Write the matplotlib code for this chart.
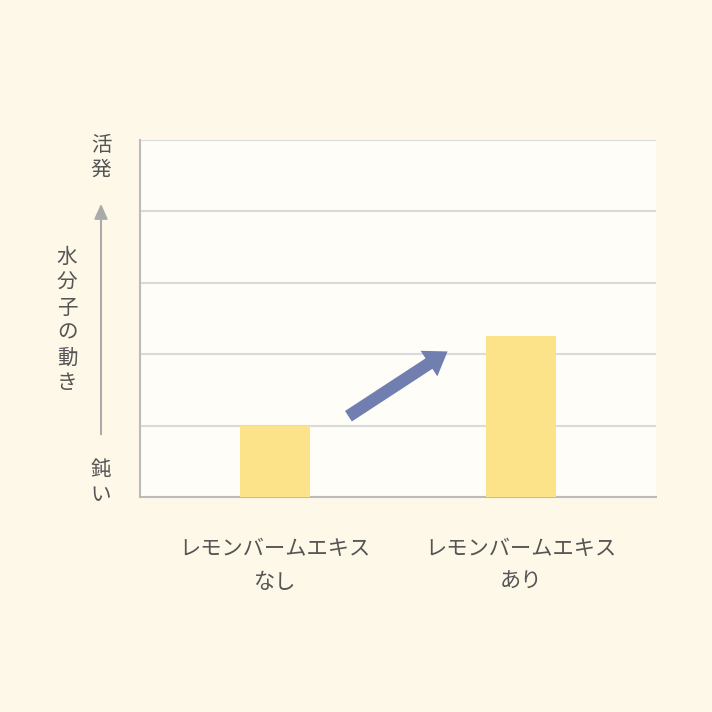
import numpy as np
import matplotlib.pyplot as plt
from matplotlib.patches import FancyArrowPatch

plt.rcParams['font.family'] = ['Noto Sans CJK JP', 'DejaVu Sans']

# == data ==
categories = ['レモンバームエキス\nなし', 'レモンバームエキス\nあり']
values = [1.0, 2.25]
y_label = '水分子の動き'
top_label = '活発'
bottom_label = '鈍い'

bg = '#FEF8E8'
text_col = '#555555'
W = 712


def fx(px):
    return px / W


def fy(py):
    return 1 - py / W


fig = plt.figure(figsize=(7.12, 7.12), dpi=100, facecolor=bg)
ax = fig.add_axes([fx(140), fy(497), fx(656) - fx(140), (497 - 140) / W])
ax.set_facecolor('#FFFDF8')

x = np.arange(len(categories))
ax.bar(x, values, width=0.285, color='#FCE38A', zorder=3)

ax.set_xlim(-0.549, 1.549)
ax.set_ylim(0, 5)
ax.set_yticks(np.arange(0, 6, 1))
ax.yaxis.grid(True, color='#DADADA', linewidth=1.5, zorder=0)
ax.tick_params(left=False, bottom=False, labelleft=False)
ax.set_xticks(x)
ax.set_xticklabels(categories, fontsize=15.3, color=text_col, linespacing=1.62)
ax.tick_params(axis='x', pad=26)

for s in ['top', 'right']:
    ax.spines[s].set_visible(False)
for s in ['left', 'bottom']:
    ax.spines[s].set_color('#BBBBBB')
    ax.spines[s].set_linewidth(1.5)

# blue arrow between bars
ax.add_patch(FancyArrowPatch((0.289, 1.11), (0.711, 2.06), arrowstyle='simple,head_width=2.2,head_length=1.6,tail_width=0.9',
                             mutation_scale=10, color='#717FB0', lw=0, zorder=4))

# left axis labels
fs = 14.8
fig.text(fx(101), fy(145), top_label[0], ha='center', va='center', fontsize=fs, color=text_col)
fig.text(fx(101), fy(170), top_label[1], ha='center', va='center', fontsize=fs, color=text_col)
fig.text(fx(101), fy(470), bottom_label[0], ha='center', va='center', fontsize=fs, color=text_col)
fig.text(fx(101), fy(495), bottom_label[1], ha='center', va='center', fontsize=fs, color=text_col)
for i, ch in enumerate(y_label):
    fig.text(fx(67), fy(257 + i * 25.3), ch, ha='center', va='center', fontsize=fs, color=text_col)

fig.add_artist(FancyArrowPatch((fx(101), fy(437)), (fx(101), fy(201)), transform=fig.transFigure,
                               arrowstyle='-|>,head_width=0.2,head_length=0.45', mutation_scale=20,
                               color='#AAAAAA', lw=1.5))

fig.savefig('out.png', dpi=100, facecolor=bg)
